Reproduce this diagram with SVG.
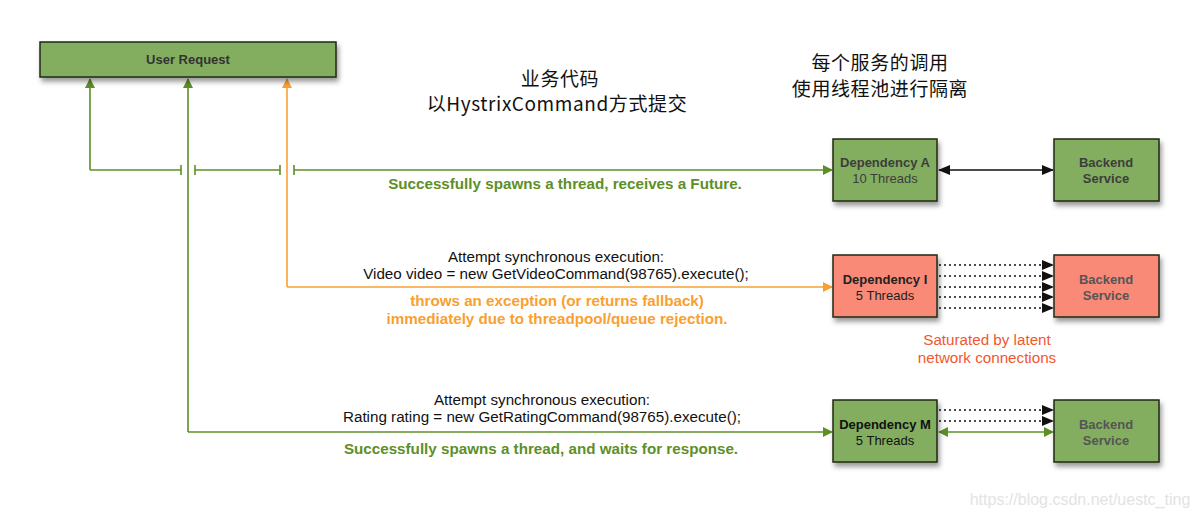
<svg xmlns="http://www.w3.org/2000/svg" width="1197" height="519" viewBox="0 0 1197 519">
<style>
.box{stroke:#1f2a16;stroke-width:1.5}
.g{fill:#83ae5f}
.r{fill:#f98a78}
.bt{font-family:"Liberation Sans",Arial,sans-serif;font-size:13px;text-anchor:middle;fill:#333}
.b{font-weight:bold}
.lbl{font-family:"Liberation Sans",Arial,sans-serif;font-size:15.2px;text-anchor:middle}
.zh{font-family:"Noto Sans CJK SC","Noto Sans",sans-serif;font-size:19px;letter-spacing:0.6px;text-anchor:middle;fill:#111}
.gl{stroke:#5d8f26;stroke-width:1.6;fill:none}
.ol{stroke:#f9a030;stroke-width:1.6;fill:none}
.dl{stroke:#111;stroke-width:1.4;stroke-dasharray:2 3;fill:none}
</style>
<defs>
<filter id="sh" x="-10%" y="-10%" width="130%" height="140%">
<feDropShadow dx="2" dy="4" stdDeviation="2.5" flood-color="#000" flood-opacity="0.4"/>
</filter>
<marker id="ag" markerWidth="10" markerHeight="10" refX="9" refY="5" orient="auto-start-reverse" markerUnits="userSpaceOnUse"><path d="M0,0 L10,5 L0,10 z" fill="#5d8f26"/></marker>
<marker id="ao" markerWidth="10" markerHeight="10" refX="9" refY="5" orient="auto-start-reverse" markerUnits="userSpaceOnUse"><path d="M0,0 L10,5 L0,10 z" fill="#f9a030"/></marker>
<marker id="ak" markerWidth="12" markerHeight="10" refX="11" refY="5" orient="auto-start-reverse" markerUnits="userSpaceOnUse"><path d="M0,0 L12,5 L0,10 z" fill="#111"/></marker>
</defs>
<rect width="1197" height="519" fill="#fff"/>

<g id="connectors">
<line class="gl" x1="90" y1="170" x2="90" y2="79" marker-end="url(#ag)"/>
<line class="gl" x1="188" y1="432" x2="188" y2="79" marker-end="url(#ag)"/>
<line class="ol" x1="287" y1="287" x2="287" y2="79" marker-end="url(#ao)"/>
<path class="gl" d="M90,170 H181 M181,165 V175 M195,165 V175 M195,170 H280 M280,165 V175 M294,165 V175"/>
<line class="gl" x1="294" y1="170" x2="832" y2="170" marker-end="url(#ag)"/>
<line class="ol" x1="287" y1="287" x2="832" y2="287" marker-end="url(#ao)"/>
<line class="gl" x1="188" y1="432" x2="832" y2="432" marker-end="url(#ag)"/>
<line x1="939" y1="170" x2="1053" y2="170" stroke="#111" stroke-width="1.4" marker-start="url(#ak)" marker-end="url(#ak)"/>
<line class="dl" x1="939" y1="265" x2="1053" y2="265" marker-end="url(#ak)"/>
<line class="dl" x1="939" y1="276" x2="1053" y2="276" marker-end="url(#ak)"/>
<line class="dl" x1="939" y1="287" x2="1053" y2="287" marker-end="url(#ak)"/>
<line class="dl" x1="939" y1="297" x2="1053" y2="297" marker-end="url(#ak)"/>
<line class="dl" x1="939" y1="308" x2="1053" y2="308" marker-end="url(#ak)"/>
<line class="dl" x1="939" y1="410" x2="1053" y2="410" marker-end="url(#ak)"/>
<line class="dl" x1="939" y1="421" x2="1053" y2="421" marker-end="url(#ak)"/>
<line class="gl" x1="939" y1="432" x2="1053" y2="432" marker-start="url(#ag)" marker-end="url(#ag)"/>
</g>

<g id="user-request">
<rect class="box g" x="40" y="42" width="296" height="35" filter="url(#sh)"/>
<text class="bt b" x="188" y="64" fill="#222">User Request</text>
</g>

<g id="dep-a">
<rect class="box g" x="833" y="139" width="104" height="62" filter="url(#sh)"/>
<text class="bt b" x="885" y="167" style="fill:#3d3d3d">Dependency A</text>
<text class="bt" x="885" y="183" style="fill:#3d3d3d">10 Threads</text>
</g>
<g id="backend-a">
<rect class="box g" x="1054" y="139" width="105" height="62" filter="url(#sh)"/>
<text class="bt b" x="1106" y="167" style="fill:#3d3d3d">Backend</text>
<text class="bt b" x="1106" y="183" style="fill:#3d3d3d">Service</text>
</g>

<g id="dep-i">
<rect class="box r" x="833" y="255" width="104" height="62" filter="url(#sh)"/>
<text class="bt b" x="885" y="284" style="fill:#222">Dependency I</text>
<text class="bt" x="885" y="300" style="fill:#222">5 Threads</text>
</g>
<g id="backend-i">
<rect class="box r" x="1054" y="255" width="105" height="62" filter="url(#sh)"/>
<text class="bt b" x="1106" y="284" style="fill:#555">Backend</text>
<text class="bt b" x="1106" y="300" style="fill:#555">Service</text>
</g>

<g id="dep-m">
<rect class="box g" x="833" y="400" width="104" height="62" filter="url(#sh)"/>
<text class="bt b" x="885" y="429" style="fill:#111">Dependency M</text>
<text class="bt" x="885" y="445" style="fill:#111">5 Threads</text>
</g>
<g id="backend-m">
<rect class="box g" x="1054" y="400" width="105" height="62" filter="url(#sh)"/>
<text class="bt b" x="1106" y="429" style="fill:#555">Backend</text>
<text class="bt b" x="1106" y="445" style="fill:#555">Service</text>
</g>

<g id="labels">
<text class="zh" x="560" y="86">业务代码</text>
<text class="zh" x="557" y="111">以HystrixCommand方式提交</text>
<text class="zh" x="880" y="70">每个服务的调用</text>
<text class="zh" x="880" y="96">使用线程池进行隔离</text>
<text class="lbl b" x="565" y="189" fill="#5d8f26">Successfully spawns a thread, receives a Future.</text>
<text class="lbl" x="556" y="262" fill="#111">Attempt synchronous execution:</text>
<text class="lbl" x="556" y="279" fill="#111">Video video = new GetVideoCommand(98765).execute();</text>
<text class="lbl b" x="557" y="306" fill="#f9a030">throws an exception (or returns fallback)</text>
<text class="lbl b" x="557" y="324" fill="#f9a030">immediately due to threadpool/queue rejection.</text>
<text class="lbl" x="987" y="345" fill="#f2572f">Saturated by latent</text>
<text class="lbl" x="987" y="363" fill="#f2572f">network connections</text>
<text class="lbl" x="542" y="405" fill="#111">Attempt synchronous execution:</text>
<text class="lbl" x="542" y="422" fill="#111">Rating rating = new GetRatingCommand(98765).execute();</text>
<text class="lbl b" x="541" y="454" fill="#5d8f26">Successfully spawns a thread, and waits for response.</text>
<text x="1080" y="505" font-family="Liberation Sans,Arial,sans-serif" font-size="16" text-anchor="middle" fill="#e3e3e3">https://blog.csdn.net/uestc_ting</text>
</g>
</svg>
